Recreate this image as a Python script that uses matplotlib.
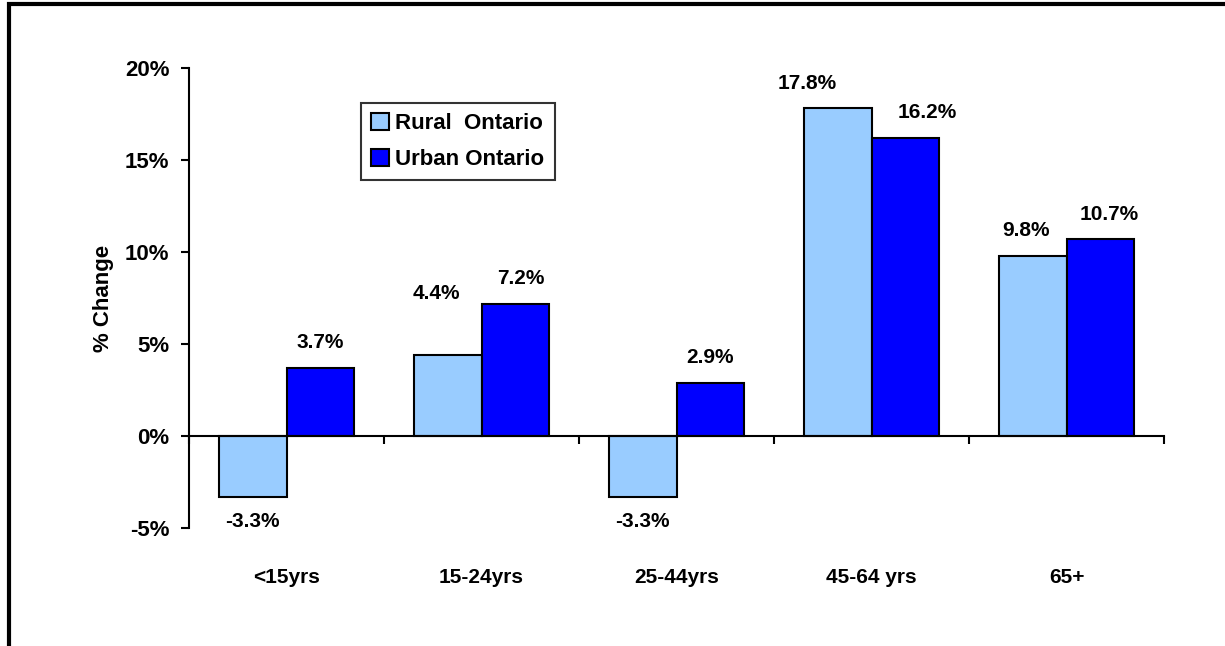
import matplotlib
matplotlib.use("Agg")
import matplotlib.pyplot as plt
import numpy as np
from matplotlib.patches import Rectangle

categories = ["<15yrs", "15-24yrs", "25-44yrs", "45-64 yrs", "65+"]
rural = [-3.3, 4.4, -3.3, 17.8, 9.8]
urban = [3.7, 7.2, 2.9, 16.2, 10.7]
series_names = ["Rural  Ontario", "Urban Ontario"]
yticks = [-5, 0, 5, 10, 15, 20]

# manual label nudges (points), as placed in the original chart
rural_nudge = [(0, 0), (-8, 26), (0, 0), (-22, 0), (-5, 0)]
urban_nudge = [(0, 0), (4, 0), (0, 0), (16, 0), (6, 0)]

plt.rcParams['font.family'] = ['Liberation Sans', 'DejaVu Sans']
plt.rcParams['font.weight'] = 'bold'

W, H = 1225, 646
fig = plt.figure(figsize=(W / 100, H / 100), dpi=100)
left, right, top, bottom = 189, 1164, 68, 528
ax = fig.add_axes([left / W, (H - bottom) / H, (right - left) / W, (bottom - top) / H])

x = np.arange(len(categories))
bw = 0.348
ax.bar(x - bw / 2, rural, bw, color="#99CCFF", edgecolor="black", linewidth=1.5, label=series_names[0])
ax.bar(x + bw / 2, urban, bw, color="#0000FF", edgecolor="black", linewidth=1.5, label=series_names[1])

for xs, vals, nud in ((x - bw / 2, rural, rural_nudge), (x + bw / 2, urban, urban_nudge)):
    for xi, v, (dx, dy) in zip(xs, vals, nud):
        off = 18 if v >= 0 else -18
        ax.annotate(f"{v:.1f}%", (xi, v), xytext=(dx, off + dy), textcoords="offset points",
                    ha="center", va="center", fontsize=15, fontweight="bold")

ax.set_xlim(-0.5, len(categories) - 0.5)
ax.set_ylim(-5, 20)
ax.set_yticks(yticks)
ax.set_yticklabels([f"{t}%" for t in yticks], fontsize=16, fontweight="bold")
ax.tick_params(axis="y", direction="out", length=6, width=1.5, pad=8)

ax.spines["top"].set_visible(False)
ax.spines["right"].set_visible(False)
ax.spines["left"].set_linewidth(1.5)
ax.spines["bottom"].set_position(("data", 0))
ax.spines["bottom"].set_linewidth(1.5)
ax.set_xticks(np.arange(-0.5, len(categories), 1.0))
ax.set_xticklabels([])
ax.tick_params(axis="x", direction="out", length=6, width=1.5)

for xi, c in zip(x, categories):
    ax.text(xi, -0.107, c, transform=ax.get_xaxis_transform(), ha="center", va="center",
            fontsize=15, fontweight="bold")

ax.set_ylabel("% Change", fontsize=16, fontweight="bold", labelpad=8)

leg = ax.legend(loc="upper left", bbox_to_anchor=((361 - left) / (right - left), (bottom - 103) / (bottom - top)),
                borderaxespad=0, frameon=True, fancybox=False, prop={"size": 16, "weight": "bold"},
                handlelength=0.8, handleheight=0.8, handletextpad=0.3, labelspacing=0.65,
                borderpad=0.45)
leg.get_frame().set_edgecolor("black")
leg.get_frame().set_linewidth(1.5)

fig.add_artist(Rectangle((9 / W, -0.1), 1.2, 1.1 - 4 / H, transform=fig.transFigure,
                         fill=False, edgecolor="black", linewidth=3))

fig.savefig("out.png", dpi=100)
